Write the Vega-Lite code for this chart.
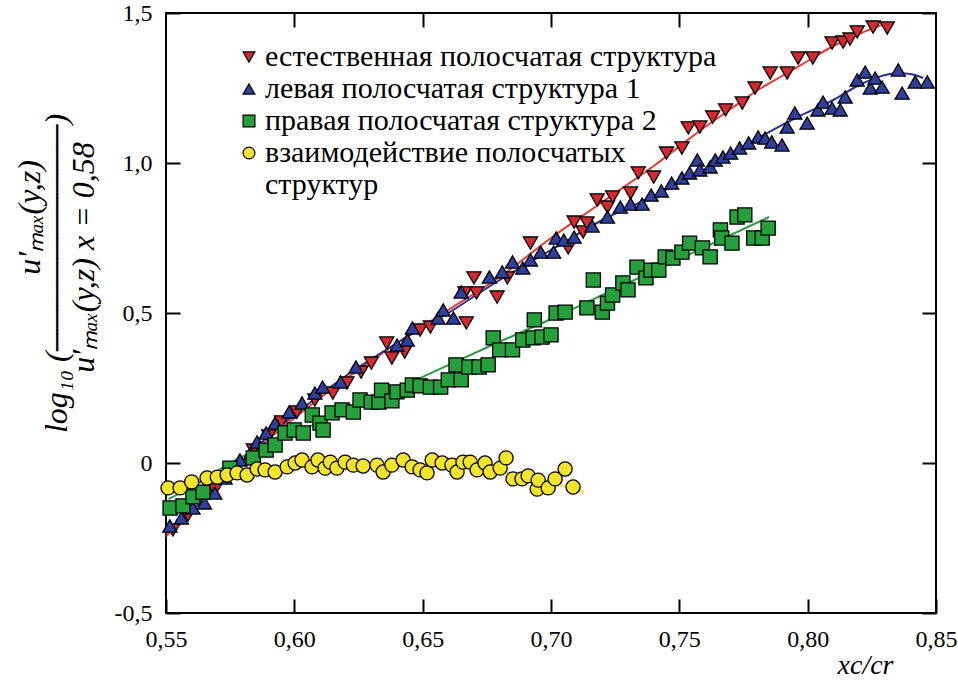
{
  "$schema": "https://vega.github.io/schema/vega-lite/v6.json",
  "width": 770,
  "height": 600,
  "autosize": {"type": "none"},
  "padding": {"left": 166, "top": 13, "right": 22, "bottom": 84},
  "background": "white",
  "config": {
    "view": {"stroke": "black", "strokeWidth": 2},
    "font": "Liberation Serif",
    "axis": {
      "domain": false, "grid": false, "tickColor": "black", "tickWidth": 2, "tickSize": -14,
      "labelColor": "black", "labelFont": "Liberation Serif", "labelFontSize": 24,
      "labelFlush": false, "labelOverlap": false, "labelBound": false,
      "titleColor": "black", "titleFont": "Liberation Serif", "titleFontWeight": "normal"
    },
    "legend": {"labelFont": "Liberation Serif"}
  },
  "datasets": {
    "fit": [
      {"series": "естественная полосчатая структура", "x": 0.550, "y": -0.245},
      {"series": "естественная полосчатая структура", "x": 0.560, "y": -0.160},
      {"series": "естественная полосчатая структура", "x": 0.570, "y": -0.080},
      {"series": "естественная полосчатая структура", "x": 0.580, "y": 0.000},
      {"series": "естественная полосчатая структура", "x": 0.590, "y": 0.080},
      {"series": "естественная полосчатая структура", "x": 0.600, "y": 0.150},
      {"series": "естественная полосчатая структура", "x": 0.620, "y": 0.280},
      {"series": "естественная полосчатая структура", "x": 0.640, "y": 0.400},
      {"series": "естественная полосчатая структура", "x": 0.660, "y": 0.510},
      {"series": "естественная полосчатая структура", "x": 0.680, "y": 0.620},
      {"series": "естественная полосчатая структура", "x": 0.700, "y": 0.750},
      {"series": "естественная полосчатая структура", "x": 0.720, "y": 0.870},
      {"series": "естественная полосчатая структура", "x": 0.740, "y": 0.990},
      {"series": "естественная полосчатая структура", "x": 0.760, "y": 1.120},
      {"series": "естественная полосчатая структура", "x": 0.770, "y": 1.180},
      {"series": "естественная полосчатая структура", "x": 0.780, "y": 1.240},
      {"series": "естественная полосчатая структура", "x": 0.790, "y": 1.290},
      {"series": "естественная полосчатая структура", "x": 0.800, "y": 1.340},
      {"series": "естественная полосчатая структура", "x": 0.810, "y": 1.390},
      {"series": "естественная полосчатая структура", "x": 0.820, "y": 1.430},
      {"series": "естественная полосчатая структура", "x": 0.831, "y": 1.467},
      {"series": "левая полосчатая структура 1", "x": 0.550, "y": -0.235},
      {"series": "левая полосчатая структура 1", "x": 0.560, "y": -0.160},
      {"series": "левая полосчатая структура 1", "x": 0.570, "y": -0.080},
      {"series": "левая полосчатая структура 1", "x": 0.580, "y": 0.010},
      {"series": "левая полосчатая структура 1", "x": 0.590, "y": 0.090},
      {"series": "левая полосчатая структура 1", "x": 0.600, "y": 0.160},
      {"series": "левая полосчатая структура 1", "x": 0.620, "y": 0.290},
      {"series": "левая полосчатая структура 1", "x": 0.640, "y": 0.400},
      {"series": "левая полосчатая структура 1", "x": 0.660, "y": 0.500},
      {"series": "левая полосчатая структура 1", "x": 0.680, "y": 0.610},
      {"series": "левая полосчатая структура 1", "x": 0.700, "y": 0.710},
      {"series": "левая полосчатая структура 1", "x": 0.720, "y": 0.810},
      {"series": "левая полосчатая структура 1", "x": 0.740, "y": 0.890},
      {"series": "левая полосчатая структура 1", "x": 0.760, "y": 0.980},
      {"series": "левая полосчатая структура 1", "x": 0.770, "y": 1.030},
      {"series": "левая полосчатая структура 1", "x": 0.780, "y": 1.080},
      {"series": "левая полосчатая структура 1", "x": 0.796, "y": 1.153},
      {"series": "левая полосчатая структура 1", "x": 0.810, "y": 1.210},
      {"series": "левая полосчатая структура 1", "x": 0.819, "y": 1.255},
      {"series": "левая полосчатая структура 1", "x": 0.828, "y": 1.288},
      {"series": "левая полосчатая структура 1", "x": 0.835, "y": 1.300},
      {"series": "левая полосчатая структура 1", "x": 0.841, "y": 1.295},
      {"series": "левая полосчатая структура 1", "x": 0.845, "y": 1.283},
      {"series": "правая полосчатая структура 2", "x": 0.551, "y": -0.120},
      {"series": "правая полосчатая структура 2", "x": 0.560, "y": -0.080},
      {"series": "правая полосчатая структура 2", "x": 0.575, "y": 0.000},
      {"series": "правая полосчатая структура 2", "x": 0.600, "y": 0.100},
      {"series": "правая полосчатая структура 2", "x": 0.625, "y": 0.190},
      {"series": "правая полосчатая структура 2", "x": 0.650, "y": 0.287},
      {"series": "правая полосчатая структура 2", "x": 0.675, "y": 0.385},
      {"series": "правая полосчатая структура 2", "x": 0.700, "y": 0.480},
      {"series": "правая полосчатая структура 2", "x": 0.725, "y": 0.580},
      {"series": "правая полосчатая структура 2", "x": 0.750, "y": 0.680},
      {"series": "правая полосчатая структура 2", "x": 0.785, "y": 0.820},
      {"series": "взаимодействие полосчатых структур", "x": 0.550, "y": -0.080},
      {"series": "взаимодействие полосчатых структур", "x": 0.570, "y": -0.045},
      {"series": "взаимодействие полосчатых структур", "x": 0.590, "y": -0.020},
      {"series": "взаимодействие полосчатых структур", "x": 0.610, "y": -0.005},
      {"series": "взаимодействие полосчатых структур", "x": 0.630, "y": 0.000},
      {"series": "взаимодействие полосчатых структур", "x": 0.650, "y": -0.005},
      {"series": "взаимодействие полосчатых структур", "x": 0.670, "y": -0.015},
      {"series": "взаимодействие полосчатых структур", "x": 0.690, "y": -0.045},
      {"series": "взаимодействие полосчатых структур", "x": 0.700, "y": -0.065},
      {"series": "взаимодействие полосчатых структур", "x": 0.713, "y": -0.097}
    ],
    "pts": [
      {"series": "естественная полосчатая структура", "x": 0.5527, "y": -0.223},
      {"series": "естественная полосчатая структура", "x": 0.5586, "y": -0.173},
      {"series": "естественная полосчатая структура", "x": 0.564, "y": -0.13},
      {"series": "естественная полосчатая структура", "x": 0.569, "y": -0.09},
      {"series": "естественная полосчатая структура", "x": 0.575, "y": -0.04},
      {"series": "естественная полосчатая структура", "x": 0.584, "y": 0.043},
      {"series": "естественная полосчатая структура", "x": 0.590, "y": 0.09},
      {"series": "естественная полосчатая структура", "x": 0.595, "y": 0.137},
      {"series": "естественная полосчатая структура", "x": 0.601, "y": 0.17},
      {"series": "естественная полосчатая структура", "x": 0.608, "y": 0.21},
      {"series": "естественная полосчатая структура", "x": 0.615, "y": 0.233},
      {"series": "естественная полосчатая структура", "x": 0.6205, "y": 0.267},
      {"series": "естественная полосчатая структура", "x": 0.626, "y": 0.303},
      {"series": "естественная полосчатая структура", "x": 0.630, "y": 0.333},
      {"series": "естественная полосчатая структура", "x": 0.636, "y": 0.40},
      {"series": "естественная полосчатая структура", "x": 0.638, "y": 0.35},
      {"series": "естественная полосчатая структура", "x": 0.643, "y": 0.37},
      {"series": "естественная полосчатая структура", "x": 0.649, "y": 0.443},
      {"series": "естественная полосчатая структура", "x": 0.653, "y": 0.453},
      {"series": "естественная полосчатая структура", "x": 0.6665, "y": 0.567},
      {"series": "естественная полосчатая структура", "x": 0.667, "y": 0.467},
      {"series": "естественная полосчатая структура", "x": 0.670, "y": 0.617},
      {"series": "естественная полосчатая структура", "x": 0.671, "y": 0.567},
      {"series": "естественная полосчатая структура", "x": 0.679, "y": 0.553},
      {"series": "естественная полосчатая структура", "x": 0.683, "y": 0.617},
      {"series": "естественная полосчатая структура", "x": 0.692, "y": 0.733},
      {"series": "естественная полосчатая структура", "x": 0.7067, "y": 0.717},
      {"series": "естественная полосчатая структура", "x": 0.709, "y": 0.803},
      {"series": "естественная полосчатая структура", "x": 0.7125, "y": 0.77},
      {"series": "естественная полосчатая структура", "x": 0.714, "y": 0.80},
      {"series": "естественная полосчатая структура", "x": 0.718, "y": 0.877},
      {"series": "естественная полосчатая структура", "x": 0.722, "y": 0.853},
      {"series": "естественная полосчатая структура", "x": 0.724, "y": 0.887},
      {"series": "естественная полосчатая структура", "x": 0.731, "y": 0.90},
      {"series": "естественная полосчатая структура", "x": 0.734, "y": 0.967},
      {"series": "естественная полосчатая структура", "x": 0.740, "y": 0.953},
      {"series": "естественная полосчатая структура", "x": 0.745, "y": 1.033},
      {"series": "естественная полосчатая структура", "x": 0.751, "y": 1.05},
      {"series": "естественная полосчатая структура", "x": 0.7535, "y": 1.117},
      {"series": "естественная полосчатая структура", "x": 0.758, "y": 1.12},
      {"series": "естественная полосчатая структура", "x": 0.763, "y": 1.153},
      {"series": "естественная полосчатая структура", "x": 0.768, "y": 1.177},
      {"series": "естественная полосчатая структура", "x": 0.7745, "y": 1.20},
      {"series": "естественная полосчатая структура", "x": 0.7795, "y": 1.25},
      {"series": "естественная полосчатая структура", "x": 0.7854, "y": 1.30},
      {"series": "естественная полосчатая структура", "x": 0.792, "y": 1.30},
      {"series": "естественная полосчатая структура", "x": 0.7963, "y": 1.35},
      {"series": "естественная полосчатая структура", "x": 0.802, "y": 1.35},
      {"series": "естественная полосчатая структура", "x": 0.8095, "y": 1.40},
      {"series": "естественная полосчатая структура", "x": 0.8138, "y": 1.403},
      {"series": "естественная полосчатая структура", "x": 0.8165, "y": 1.413},
      {"series": "естественная полосчатая структура", "x": 0.8193, "y": 1.437},
      {"series": "естественная полосчатая структура", "x": 0.8255, "y": 1.453},
      {"series": "естественная полосчатая структура", "x": 0.831, "y": 1.45},
      {"series": "левая полосчатая структура 1", "x": 0.5515, "y": -0.21},
      {"series": "левая полосчатая структура 1", "x": 0.556, "y": -0.183},
      {"series": "левая полосчатая структура 1", "x": 0.5605, "y": -0.15},
      {"series": "левая полосчатая структура 1", "x": 0.565, "y": -0.133},
      {"series": "левая полосчатая структура 1", "x": 0.569, "y": -0.10},
      {"series": "левая полосчатая структура 1", "x": 0.573, "y": -0.05},
      {"series": "левая полосчатая структура 1", "x": 0.5788, "y": 0.01},
      {"series": "левая полосчатая структура 1", "x": 0.583, "y": 0.033},
      {"series": "левая полосчатая структура 1", "x": 0.5855, "y": 0.07},
      {"series": "левая полосчатая структура 1", "x": 0.589, "y": 0.10},
      {"series": "левая полосчатая структура 1", "x": 0.5925, "y": 0.133},
      {"series": "левая полосчатая структура 1", "x": 0.598, "y": 0.17},
      {"series": "левая полосчатая структура 1", "x": 0.603, "y": 0.20},
      {"series": "левая полосчатая структура 1", "x": 0.608, "y": 0.233},
      {"series": "левая полосчатая структура 1", "x": 0.611, "y": 0.253},
      {"series": "левая полосчатая структура 1", "x": 0.618, "y": 0.27},
      {"series": "левая полосчатая структура 1", "x": 0.624, "y": 0.32},
      {"series": "левая полосчатая структура 1", "x": 0.640, "y": 0.393},
      {"series": "левая полосчатая структура 1", "x": 0.644, "y": 0.41},
      {"series": "левая полосчатая структура 1", "x": 0.646, "y": 0.45},
      {"series": "левая полосчатая структура 1", "x": 0.656, "y": 0.483},
      {"series": "левая полосчатая структура 1", "x": 0.658, "y": 0.51},
      {"series": "левая полосчатая структура 1", "x": 0.662, "y": 0.483},
      {"series": "левая полосчатая структура 1", "x": 0.665, "y": 0.57},
      {"series": "левая полосчатая структура 1", "x": 0.676, "y": 0.62},
      {"series": "левая полосчатая структура 1", "x": 0.681, "y": 0.637},
      {"series": "левая полосчатая структура 1", "x": 0.685, "y": 0.67},
      {"series": "левая полосчатая структура 1", "x": 0.689, "y": 0.65},
      {"series": "левая полосчатая структура 1", "x": 0.692, "y": 0.677},
      {"series": "левая полосчатая структура 1", "x": 0.696, "y": 0.703},
      {"series": "левая полосчатая структура 1", "x": 0.701, "y": 0.703},
      {"series": "левая полосчатая структура 1", "x": 0.702, "y": 0.75},
      {"series": "левая полосчатая структура 1", "x": 0.705, "y": 0.743},
      {"series": "левая полосчатая структура 1", "x": 0.709, "y": 0.753},
      {"series": "левая полосчатая структура 1", "x": 0.716, "y": 0.79},
      {"series": "левая полосчатая структура 1", "x": 0.722, "y": 0.82},
      {"series": "левая полосчатая структура 1", "x": 0.727, "y": 0.853},
      {"series": "левая полосчатая структура 1", "x": 0.731, "y": 0.863},
      {"series": "левая полосчатая структура 1", "x": 0.7355, "y": 0.863},
      {"series": "левая полосчатая структура 1", "x": 0.739, "y": 0.893},
      {"series": "левая полосчатая структура 1", "x": 0.743, "y": 0.907},
      {"series": "левая полосчатая структура 1", "x": 0.747, "y": 0.933},
      {"series": "левая полосчатая структура 1", "x": 0.751, "y": 0.95},
      {"series": "левая полосчатая структура 1", "x": 0.754, "y": 0.967},
      {"series": "левая полосчатая структура 1", "x": 0.757, "y": 1.01},
      {"series": "левая полосчатая структура 1", "x": 0.758, "y": 0.977},
      {"series": "левая полосчатая структура 1", "x": 0.762, "y": 0.987},
      {"series": "левая полосчатая структура 1", "x": 0.764, "y": 1.01},
      {"series": "левая полосчатая структура 1", "x": 0.767, "y": 1.02},
      {"series": "левая полосчатая структура 1", "x": 0.770, "y": 1.033},
      {"series": "левая полосчатая структура 1", "x": 0.7735, "y": 1.05},
      {"series": "левая полосчатая структура 1", "x": 0.777, "y": 1.067},
      {"series": "левая полосчатая структура 1", "x": 0.7807, "y": 1.087},
      {"series": "левая полосчатая структура 1", "x": 0.7834, "y": 1.083},
      {"series": "левая полосчатая структура 1", "x": 0.786, "y": 1.07},
      {"series": "левая полосчатая структура 1", "x": 0.790, "y": 1.06},
      {"series": "левая полосчатая структура 1", "x": 0.792, "y": 1.12},
      {"series": "левая полосчатая структура 1", "x": 0.795, "y": 1.167},
      {"series": "левая полосчатая структура 1", "x": 0.7998, "y": 1.133},
      {"series": "левая полосчатая структура 1", "x": 0.804, "y": 1.177},
      {"series": "левая полосчатая структура 1", "x": 0.806, "y": 1.203},
      {"series": "левая полосчатая структура 1", "x": 0.8095, "y": 1.183},
      {"series": "левая полосчатая структура 1", "x": 0.8127, "y": 1.177},
      {"series": "левая полосчатая структура 1", "x": 0.8146, "y": 1.22},
      {"series": "левая полосчатая структура 1", "x": 0.8193, "y": 1.277},
      {"series": "левая полосчатая структура 1", "x": 0.8224, "y": 1.303},
      {"series": "левая полосчатая структура 1", "x": 0.8244, "y": 1.25},
      {"series": "левая полосчатая структура 1", "x": 0.8263, "y": 1.283},
      {"series": "левая полосчатая структура 1", "x": 0.829, "y": 1.253},
      {"series": "левая полосчатая структура 1", "x": 0.8353, "y": 1.31},
      {"series": "левая полосчатая структура 1", "x": 0.8368, "y": 1.233},
      {"series": "левая полосчатая структура 1", "x": 0.8419, "y": 1.27},
      {"series": "левая полосчатая структура 1", "x": 0.8466, "y": 1.27},
      {"series": "правая полосчатая структура 2", "x": 0.5516, "y": -0.15},
      {"series": "правая полосчатая структура 2", "x": 0.5566, "y": -0.143},
      {"series": "правая полосчатая структура 2", "x": 0.5605, "y": -0.113},
      {"series": "правая полосчатая структура 2", "x": 0.5644, "y": -0.097},
      {"series": "правая полосчатая структура 2", "x": 0.5749, "y": -0.017},
      {"series": "правая полосчатая структура 2", "x": 0.584, "y": 0.017},
      {"series": "правая полосчатая структура 2", "x": 0.589, "y": 0.043},
      {"series": "правая полосчатая структура 2", "x": 0.5925, "y": 0.06},
      {"series": "правая полосчатая структура 2", "x": 0.5964, "y": 0.10},
      {"series": "правая полосчатая структура 2", "x": 0.600, "y": 0.11},
      {"series": "правая полосчатая структура 2", "x": 0.6035, "y": 0.10},
      {"series": "правая полосчатая структура 2", "x": 0.607, "y": 0.16},
      {"series": "правая полосчатая структура 2", "x": 0.610, "y": 0.133},
      {"series": "правая полосчатая структура 2", "x": 0.6112, "y": 0.11},
      {"series": "правая полосчатая структура 2", "x": 0.6147, "y": 0.167},
      {"series": "правая полосчатая структура 2", "x": 0.6186, "y": 0.177},
      {"series": "правая полосчатая структура 2", "x": 0.623, "y": 0.17},
      {"series": "правая полосчатая структура 2", "x": 0.6256, "y": 0.21},
      {"series": "правая полосчатая структура 2", "x": 0.630, "y": 0.203},
      {"series": "правая полосчатая структура 2", "x": 0.633, "y": 0.203},
      {"series": "правая полосчатая структура 2", "x": 0.634, "y": 0.243},
      {"series": "правая полосчатая структура 2", "x": 0.638, "y": 0.207},
      {"series": "правая полосчатая структура 2", "x": 0.640, "y": 0.237},
      {"series": "правая полосчатая структура 2", "x": 0.644, "y": 0.243},
      {"series": "правая полосчатая структура 2", "x": 0.646, "y": 0.26},
      {"series": "правая полосчатая структура 2", "x": 0.649, "y": 0.257},
      {"series": "правая полосчатая структура 2", "x": 0.653, "y": 0.253},
      {"series": "правая полосчатая структура 2", "x": 0.657, "y": 0.253},
      {"series": "правая полосчатая структура 2", "x": 0.660, "y": 0.277},
      {"series": "правая полосчатая структура 2", "x": 0.663, "y": 0.327},
      {"series": "правая полосчатая структура 2", "x": 0.665, "y": 0.277},
      {"series": "правая полосчатая структура 2", "x": 0.668, "y": 0.32},
      {"series": "правая полосчатая структура 2", "x": 0.672, "y": 0.32},
      {"series": "правая полосчатая структура 2", "x": 0.6755, "y": 0.327},
      {"series": "правая полосчатая структура 2", "x": 0.6775, "y": 0.417},
      {"series": "правая полосчатая структура 2", "x": 0.680, "y": 0.377},
      {"series": "правая полосчатая структура 2", "x": 0.685, "y": 0.377},
      {"series": "правая полосчатая структура 2", "x": 0.689, "y": 0.41},
      {"series": "правая полосчатая структура 2", "x": 0.693, "y": 0.417},
      {"series": "правая полосчатая структура 2", "x": 0.6935, "y": 0.477},
      {"series": "правая полосчатая структура 2", "x": 0.6965, "y": 0.42},
      {"series": "правая полосчатая структура 2", "x": 0.700, "y": 0.427},
      {"series": "правая полосчатая структура 2", "x": 0.702, "y": 0.50},
      {"series": "правая полосчатая структура 2", "x": 0.7055, "y": 0.503},
      {"series": "правая полосчатая структура 2", "x": 0.714, "y": 0.517},
      {"series": "правая полосчатая структура 2", "x": 0.7165, "y": 0.61},
      {"series": "правая полосчатая структура 2", "x": 0.720, "y": 0.503},
      {"series": "правая полосчатая структура 2", "x": 0.722, "y": 0.533},
      {"series": "правая полосчатая структура 2", "x": 0.724, "y": 0.56},
      {"series": "правая полосчатая структура 2", "x": 0.728, "y": 0.60},
      {"series": "правая полосчатая структура 2", "x": 0.730, "y": 0.577},
      {"series": "правая полосчатая структура 2", "x": 0.7335, "y": 0.653},
      {"series": "правая полосчатая структура 2", "x": 0.737, "y": 0.617},
      {"series": "правая полосчатая структура 2", "x": 0.739, "y": 0.643},
      {"series": "правая полосчатая структура 2", "x": 0.742, "y": 0.643},
      {"series": "правая полосчатая структура 2", "x": 0.7445, "y": 0.687},
      {"series": "правая полосчатая структура 2", "x": 0.7475, "y": 0.683},
      {"series": "правая полосчатая структура 2", "x": 0.751, "y": 0.703},
      {"series": "правая полосчатая структура 2", "x": 0.754, "y": 0.733},
      {"series": "правая полосчатая структура 2", "x": 0.759, "y": 0.717},
      {"series": "правая полосчатая структура 2", "x": 0.762, "y": 0.687},
      {"series": "правая полосчатая структура 2", "x": 0.766, "y": 0.777},
      {"series": "правая полосчатая структура 2", "x": 0.7665, "y": 0.75},
      {"series": "правая полосчатая структура 2", "x": 0.7705, "y": 0.733},
      {"series": "правая полосчатая структура 2", "x": 0.7725, "y": 0.82},
      {"series": "правая полосчатая структура 2", "x": 0.7755, "y": 0.827},
      {"series": "правая полосчатая структура 2", "x": 0.779, "y": 0.75},
      {"series": "правая полосчатая структура 2", "x": 0.7823, "y": 0.75},
      {"series": "правая полосчатая структура 2", "x": 0.7846, "y": 0.783},
      {"series": "взаимодействие полосчатых структур", "x": 0.5508, "y": -0.083},
      {"series": "взаимодействие полосчатых структур", "x": 0.5555, "y": -0.083},
      {"series": "взаимодействие полосчатых структур", "x": 0.560, "y": -0.063},
      {"series": "взаимодействие полосчатых структур", "x": 0.566, "y": -0.05},
      {"series": "взаимодействие полосчатых структур", "x": 0.570, "y": -0.047},
      {"series": "взаимодействие полосчатых структур", "x": 0.5738, "y": -0.04},
      {"series": "взаимодействие полосчатых структур", "x": 0.5777, "y": -0.033},
      {"series": "взаимодействие полосчатых структур", "x": 0.5816, "y": -0.04},
      {"series": "взаимодействие полосчатых структур", "x": 0.5855, "y": -0.02},
      {"series": "взаимодействие полосчатых структур", "x": 0.5886, "y": -0.023},
      {"series": "взаимодействие полосчатых структур", "x": 0.5925, "y": -0.03},
      {"series": "взаимодействие полосчатых структур", "x": 0.5972, "y": -0.013},
      {"series": "взаимодействие полосчатых структур", "x": 0.6003, "y": 0.0},
      {"series": "взаимодействие полосчатых структур", "x": 0.603, "y": 0.01},
      {"series": "взаимодействие полосчатых структур", "x": 0.6069, "y": -0.013},
      {"series": "взаимодействие полосчатых структур", "x": 0.6092, "y": 0.01},
      {"series": "взаимодействие полосчатых структур", "x": 0.612, "y": -0.017},
      {"series": "взаимодействие полосчатых структур", "x": 0.614, "y": 0.003},
      {"series": "взаимодействие полосчатых структур", "x": 0.6166, "y": -0.017},
      {"series": "взаимодействие полосчатых структур", "x": 0.6198, "y": 0.003},
      {"series": "взаимодействие полосчатых структур", "x": 0.623, "y": -0.007},
      {"series": "взаимодействие полосчатых структур", "x": 0.6268, "y": -0.01},
      {"series": "взаимодействие полосчатых структур", "x": 0.6322, "y": -0.007},
      {"series": "взаимодействие полосчатых структур", "x": 0.6346, "y": -0.03},
      {"series": "взаимодействие полосчатых структур", "x": 0.638, "y": -0.007},
      {"series": "взаимодействие полосчатых структур", "x": 0.6424, "y": 0.01},
      {"series": "взаимодействие полосчатых структур", "x": 0.6459, "y": -0.013},
      {"series": "взаимодействие полосчатых структур", "x": 0.649, "y": -0.023},
      {"series": "взаимодействие полосчатых структур", "x": 0.6517, "y": -0.033},
      {"series": "взаимодействие полосчатых структур", "x": 0.6537, "y": 0.01},
      {"series": "взаимодействие полосчатых структур", "x": 0.6576, "y": 0.0},
      {"series": "взаимодействие полосчатых структур", "x": 0.6614, "y": -0.007},
      {"series": "взаимодействие полосчатых структур", "x": 0.6634, "y": -0.03},
      {"series": "взаимодействие полосчатых структур", "x": 0.6657, "y": 0.003},
      {"series": "взаимодействие полосчатых структур", "x": 0.6685, "y": 0.003},
      {"series": "взаимодействие полосчатых структур", "x": 0.6712, "y": -0.023},
      {"series": "взаимодействие полосчатых структур", "x": 0.6743, "y": 0.0},
      {"series": "взаимодействие полосчатых структур", "x": 0.6763, "y": -0.03},
      {"series": "взаимодействие полосчатых структур", "x": 0.6802, "y": -0.017},
      {"series": "взаимодействие полосчатых структур", "x": 0.6825, "y": 0.017},
      {"series": "взаимодействие полосчатых структур", "x": 0.6852, "y": -0.053},
      {"series": "взаимодействие полосчатых структур", "x": 0.6887, "y": -0.053},
      {"series": "взаимодействие полосчатых структур", "x": 0.6911, "y": -0.043},
      {"series": "взаимодействие полосчатых структур", "x": 0.6946, "y": -0.087},
      {"series": "взаимодействие полосчатых структур", "x": 0.695, "y": -0.057},
      {"series": "взаимодействие полосчатых структур", "x": 0.6989, "y": -0.083},
      {"series": "взаимодействие полосчатых структур", "x": 0.7016, "y": -0.053},
      {"series": "взаимодействие полосчатых структур", "x": 0.7055, "y": -0.02},
      {"series": "взаимодействие полосчатых структур", "x": 0.7086, "y": -0.08}
    ]
  },
  "layer": [
    {
      "data": {"name": "fit"},
      "transform": [{"filter": "datum.series == 'естественная полосчатая структура'"}],
      "mark": {"type": "line", "interpolate": "monotone", "strokeWidth": 2, "color": "#e83a34"},
      "encoding": {
        "x": {"field": "x", "type": "quantitative",
              "scale": {"domain": [0.55, 0.85], "nice": false, "zero": false},
              "axis": {"orient": "top", "values": [0.6, 0.65, 0.7, 0.75, 0.8], "labels": false, "title": null}},
        "y": {"field": "y", "type": "quantitative",
              "scale": {"domain": [-0.5, 1.5], "nice": false, "zero": false},
              "axis": {"orient": "right", "values": [-0.5, 0, 0.5, 1, 1.5], "labels": false, "title": null}}
      }
    },
    {
      "data": {"name": "fit"},
      "transform": [{"filter": "datum.series == 'левая полосчатая структура 1'"}],
      "mark": {"type": "line", "interpolate": "monotone", "strokeWidth": 2, "color": "#26308f"},
      "encoding": {
        "x": {"field": "x", "type": "quantitative", "axis": null},
        "y": {"field": "y", "type": "quantitative", "axis": null}
      }
    },
    {
      "data": {"name": "fit"},
      "transform": [{"filter": "datum.series == 'правая полосчатая структура 2'"}],
      "mark": {"type": "line", "interpolate": "monotone", "strokeWidth": 2, "color": "#2f9a45"},
      "encoding": {
        "x": {"field": "x", "type": "quantitative", "axis": null},
        "y": {"field": "y", "type": "quantitative", "axis": null}
      }
    },
    {
      "data": {"name": "fit"},
      "transform": [{"filter": "datum.series == 'взаимодействие полосчатых структур'"}],
      "mark": {"type": "line", "interpolate": "monotone", "strokeWidth": 1.8, "color": "#eedb3a"},
      "encoding": {
        "x": {"field": "x", "type": "quantitative", "axis": null},
        "y": {"field": "y", "type": "quantitative", "axis": null}
      }
    },
    {
      "data": {"name": "pts"},
      "mark": {"type": "point", "filled": true, "opacity": 1, "stroke": "black", "strokeWidth": 1.3, "size": 200},
      "encoding": {
        "x": {"field": "x", "type": "quantitative",
              "axis": {"orient": "bottom", "values": [0.55, 0.6, 0.65, 0.7, 0.75, 0.8, 0.85],
                       "labelPadding": 28,
                       "labelExpr": "replace(format(datum.value, '.2f'), '.', ',')",
                       "title": "xc/cr", "titleFontSize": 28, "titleFontStyle": "italic",
                       "titleAnchor": "end", "titleAlign": "right", "titleX": 727, "titleY": 52, "titleBaseline": "middle"}},
        "y": {"field": "y", "type": "quantitative",
              "axis": {"orient": "left", "values": [-0.5, 0, 0.5, 1, 1.5],
                       "labelPadding": 28,
                       "labelExpr": "datum.value == 0 ? '0' : replace(replace(format(datum.value, '.1f'), '.', ','), '−', '-')",
                       "title": ["\u200b\u00a0\u00a0\u00a0\u00a0\u00a0\u00a0\u00a0\u00a0\u00a0\u00a0\u00a0\u00a0\u00a0\u00a0u′ₘₐₓ(y,z)", "log₁₀ (──────────)", "\u200b\u00a0\u00a0\u00a0\u00a0u′ₘₐₓ(y,z) x = 0,58"],
                       "titleFontSize": 32, "titleFontStyle": "italic", "titleLineHeight": 27,
                       "titleAngle": -90, "titleAlign": "center", "titleBaseline": "top",
                       "titleX": -152, "titleY": 260}},
        "color": {"field": "series", "type": "nominal",
                  "scale": {"domain": ["естественная полосчатая структура", "левая полосчатая структура 1", "правая полосчатая структура 2", "взаимодействие полосчатых структур"],
                            "range": ["#d42a2f", "#2f3f9e", "#25a03d", "#f4e52c"]},
                  "legend": {"orient": "none", "legendX": 68, "legendY": 29, "title": null,
                             "labelFontSize": 30, "labelColor": "black",
                             "labelLimit": 0, "labelOffset": 1, "rowPadding": 2, "padding": 0,
                             "symbolSize": 140, "symbolStrokeColor": "black", "symbolStrokeWidth": 1.2,
                             "labelExpr": "datum.label == 'взаимодействие полосчатых структур' ? ['взаимодействие полосчатых', 'структур'] : datum.label"}},
        "shape": {"field": "series", "type": "nominal",
                  "scale": {"domain": ["естественная полосчатая структура", "левая полосчатая структура 1", "правая полосчатая структура 2", "взаимодействие полосчатых структур"],
                            "range": ["triangle-down", "triangle-up", "square", "circle"]},
                  "legend": {"orient": "none", "legendX": 68, "legendY": 29, "title": null,
                             "labelFontSize": 30, "labelColor": "black",
                             "labelLimit": 0, "labelOffset": 1, "rowPadding": 2, "padding": 0,
                             "symbolSize": 140, "symbolStrokeColor": "black", "symbolStrokeWidth": 1.2,
                             "labelExpr": "datum.label == 'взаимодействие полосчатых структур' ? ['взаимодействие полосчатых', 'структур'] : datum.label"}}
      }
    }
  ],
  "resolve": {"axis": {"x": "independent", "y": "independent"}}
}
